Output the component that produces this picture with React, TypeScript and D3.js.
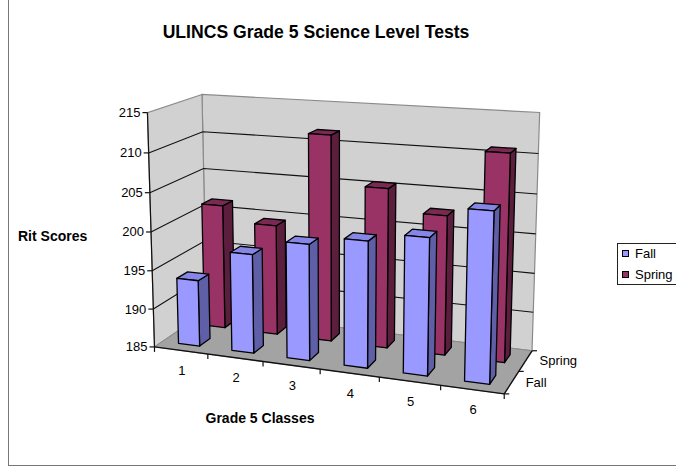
import React from 'react';
import * as d3 from 'd3';

// ---------- data ----------
const categories = ['1', '2', '3', '4', '5', '6'];
const seriesNames = ['Fall', 'Spring'];
const fallValues = [193.6, 197.7, 199.7, 200.8, 201.9, 205.7];
const springValues = [201.5, 199.5, 211.7, 205.5, 202.7, 210.9];
const yTicks = [185, 190, 195, 200, 205, 210, 215];
const yDomain: [number, number] = [185, 215];

const titleText = 'ULINCS Grade 5 Science Level Tests';
const yTitle = 'Rit Scores';
const xTitle = 'Grade 5 Classes';

// ---------- camera calibration (unit cube -> screen) ----------
// [X (0..1 across categories), Y (0..1 value), Z (0 front .. 1 back), screenX, screenY]
const calib: number[][] = [
  [0, 0, 0, 155, 345],
  [0, 1, 0, 147, 112],
  [0, 0.5, 0, 151, 232],
  [0, 0, 1, 206, 313],
  [0, 1, 1, 202, 95],
  [1, 1, 1, 540, 114],
  [1, 0, 1, 532, 350],
  [1, 0.5, 1, 536, 231],
  [1, 0, 0, 503, 395],
  [1 / 6, 0, 0, 208, 353],
  [2 / 6, 0, 0, 263, 362],
  [3 / 6, 0, 0, 321, 370],
  [4 / 6, 0, 0, 380, 378],
  [5 / 6, 0, 0, 440, 386],
  [1, 0, 0.5, 519, 371],
];

function solveCamera(pts: number[][]) {
  const A: number[][] = [];
  const b: number[] = [];
  for (const [X, Y, Z, u0, v0] of pts) {
    const u = (u0 - 340) / 200;
    const v = (v0 - 240) / 200;
    A.push([X, Y, Z, 1, 0, 0, 0, 0, -u * X, -u * Y, -u * Z]);
    b.push(u);
    A.push([0, 0, 0, 0, X, Y, Z, 1, -v * X, -v * Y, -v * Z]);
    b.push(v);
  }
  const n = 11;
  const M = Array.from({ length: n }, () => new Array(n + 1).fill(0));
  for (let r = 0; r < A.length; r++) {
    for (let i = 0; i < n; i++) {
      for (let j = 0; j < n; j++) M[i][j] += A[r][i] * A[r][j];
      M[i][n] += A[r][i] * b[r];
    }
  }
  for (let c = 0; c < n; c++) {
    let p = c;
    for (let r = c + 1; r < n; r++) if (Math.abs(M[r][c]) > Math.abs(M[p][c])) p = r;
    const tmp = M[c]; M[c] = M[p]; M[p] = tmp;
    for (let r = 0; r < n; r++) {
      if (r === c) continue;
      const f = M[r][c] / M[c][c];
      for (let k = c; k <= n; k++) M[r][k] -= f * M[c][k];
    }
  }
  const p = M.map((row, i) => row[n] / row[i]);
  return (X: number, Y: number, Z: number): [number, number] => {
    const w = p[8] * X + p[9] * Y + p[10] * Z + 1;
    return [
      ((p[0] * X + p[1] * Y + p[2] * Z + p[3]) / w) * 200 + 340,
      ((p[4] * X + p[5] * Y + p[6] * Z + p[7]) / w) * 200 + 240,
    ];
  };
}

const cam = solveCamera(calib);

// scales
const xScale = d3.scaleBand<string>().domain(categories).range([0, 1]).paddingInner(0.6).paddingOuter(0.3);
const xCat = d3.scaleLinear().domain([0, categories.length]).range([0, 1]);
const yScale = d3.scaleLinear().domain(yDomain).range([0, 1]);
const zScale = d3.scaleBand<string>().domain(seriesNames).range([0, 1]).paddingInner(0.6).paddingOuter(0.3);
const zAxis = d3.scaleBand<string>().domain(seriesNames).range([0, 1]);

const P = (x: number, v: number, z: number) => cam(x, yScale(v), z);
const poly = (pts: [number, number][]) => 'M' + pts.map((p) => p[0].toFixed(2) + ',' + p[1].toFixed(2)).join('L') + 'Z';

const colors: Record<string, { front: string; side: string; top: string }> = {
  Fall: { front: '#9999FF', side: '#5F5FA8', top: '#8686E6' },
  Spring: { front: '#993366', side: '#5C1E3D', top: '#7A2A52' },
};

const FONT = "'Liberation Sans', Arial, Helvetica, sans-serif";

export default function App() {
  const x0 = 0, x1 = 1, z0 = 0, z1 = 1;
  const vmin = yDomain[0], vmax = yDomain[1];

  const backWall = poly([P(x0, vmin, z1), P(x1, vmin, z1), P(x1, vmax, z1), P(x0, vmax, z1)]);
  const leftWall = poly([P(x0, vmin, z0), P(x0, vmin, z1), P(x0, vmax, z1), P(x0, vmax, z0)]);
  const floor = poly([P(x0, vmin, z0), P(x1, vmin, z0), P(x1, vmin, z1), P(x0, vmin, z1)]);

  const seriesData: Record<string, number[]> = { Fall: fallValues, Spring: springValues };

  // bars: back row first, left to right
  const bars: JSX.Element[] = [];
  [...seriesNames].reverse().forEach((s) => {
    const zA = zScale(s)!;
    const zB = zA + zScale.bandwidth();
    categories.forEach((c, i) => {
      const xa = xScale(c)!;
      const xb = xa + xScale.bandwidth();
      const v = seriesData[s][i];
      const col = colors[s];
      const front = poly([P(xa, vmin, zA), P(xb, vmin, zA), P(xb, v, zA), P(xa, v, zA)]);
      const side = poly([P(xb, vmin, zA), P(xb, vmin, zB), P(xb, v, zB), P(xb, v, zA)]);
      const top = poly([P(xa, v, zA), P(xb, v, zA), P(xb, v, zB), P(xa, v, zB)]);
      bars.push(
        <g key={s + c}>
          <path d={side} fill={col.side} stroke="#000" strokeWidth={1.3} strokeLinejoin="round" />
          <path d={top} fill={col.top} stroke="#000" strokeWidth={1.3} strokeLinejoin="round" />
          <path d={front} fill={col.front} stroke="#000" strokeWidth={1.3} strokeLinejoin="round" />
        </g>
      );
    });
  });

  const fbl = P(x0, vmin, z0);
  const fbr = P(x1, vmin, z0);
  const bbr = P(x1, vmin, z1);

  return (
    <svg width={676} height={468} style={{ position: 'absolute', left: 0, top: 0, background: '#fff' }} fontFamily={FONT}>
      <rect x={0} y={0} width={676} height={468} fill="#fff" />
      <rect x={8.5} y={-2} width={700} height={467.5} fill="none" stroke="#777" strokeWidth={1} />

      <text x={316} y={32} textAnchor="middle" dominantBaseline="central" fontWeight="bold" fontSize={17.6}>
        {titleText}
      </text>

      {/* walls and floor */}
      <path d={backWall} fill="#D1D1D1" stroke="#8a8a8a" strokeWidth={1.2} />
      <path d={leftWall} fill="#D1D1D1" stroke="#8a8a8a" strokeWidth={1.2} />
      <path d={floor} fill="#A3A3A3" stroke="#8a8a8a" strokeWidth={1} />

      {/* gridlines */}
      {yTicks.filter((t) => t > vmin && t < vmax).map((t) => {
        const a = P(x0, t, z0), b = P(x0, t, z1), c = P(x1, t, z1);
        return (
          <path key={'g' + t} d={`M${a[0]},${a[1]}L${b[0]},${b[1]}L${c[0]},${c[1]}`} fill="none" stroke="#111" strokeWidth={1.1} />
        );
      })}

      {/* value axis */}
      <line x1={P(x0, vmin, z0)[0]} y1={P(x0, vmin, z0)[1]} x2={P(x0, vmax, z0)[0]} y2={P(x0, vmax, z0)[1]} stroke="#111" strokeWidth={1.2} />
      {yTicks.map((t) => {
        const [px, py] = P(x0, t, z0);
        return (
          <g key={'yt' + t}>
            <line x1={px - 5} y1={py} x2={px} y2={py} stroke="#111" strokeWidth={1.2} />
            <text x={px - 7} y={py} textAnchor="end" dominantBaseline="central" fontSize={13}>
              {t}
            </text>
          </g>
        );
      })}

      {/* category axis */}
      <line x1={fbl[0]} y1={fbl[1]} x2={fbr[0]} y2={fbr[1]} stroke="#111" strokeWidth={1.4} />
      {d3.range(categories.length + 1).map((k) => {
        const [px, py] = P(xCat(k), vmin, z0);
        return <line key={'xt' + k} x1={px} y1={py} x2={px} y2={py + 5} stroke="#111" strokeWidth={1.2} />;
      })}
      {categories.map((c, i) => {
        const [px, py] = P(xCat(i + 0.5), vmin, z0);
        return (
          <text key={'xl' + c} x={px + 1} y={py + 20} textAnchor="middle" dominantBaseline="central" fontSize={13}>
            {c}
          </text>
        );
      })}

      {/* depth axis */}
      <line x1={fbr[0]} y1={fbr[1]} x2={bbr[0]} y2={bbr[1]} stroke="#111" strokeWidth={1.4} />
      {d3.range(seriesNames.length + 1).map((k) => {
        const [px, py] = P(x1, vmin, k / seriesNames.length);
        return <line key={'zt' + k} x1={px} y1={py} x2={px + 5} y2={py} stroke="#111" strokeWidth={1.2} />;
      })}
      {seriesNames.map((s) => {
        const [px, py] = P(x1, vmin, zAxis(s)! + zAxis.bandwidth() / 2);
        return (
          <text key={'zl' + s} x={px + 14} y={py} dominantBaseline="central" fontSize={13}>
            {s}
          </text>
        );
      })}

      {bars}

      {/* axis titles */}
      <text x={18} y={236} dominantBaseline="central" fontWeight="bold" fontSize={14}>
        {yTitle}
      </text>
      <text x={260} y={418} textAnchor="middle" dominantBaseline="central" fontWeight="bold" fontSize={14}>
        {xTitle}
      </text>

      {/* legend */}
      <rect x={617.5} y={243.5} width={80} height={41} fill="#fff" stroke="#222" strokeWidth={1} />
      {seriesNames.map((s, i) => (
        <g key={'lg' + s}>
          <rect x={622.5} y={250.5 + i * 21} width={6} height={6} fill={colors[s].front} stroke="#000" strokeWidth={1} />
          <text x={635} y={253.5 + i * 21} dominantBaseline="central" fontSize={13}>
            {s}
          </text>
        </g>
      ))}
    </svg>
  );
}
